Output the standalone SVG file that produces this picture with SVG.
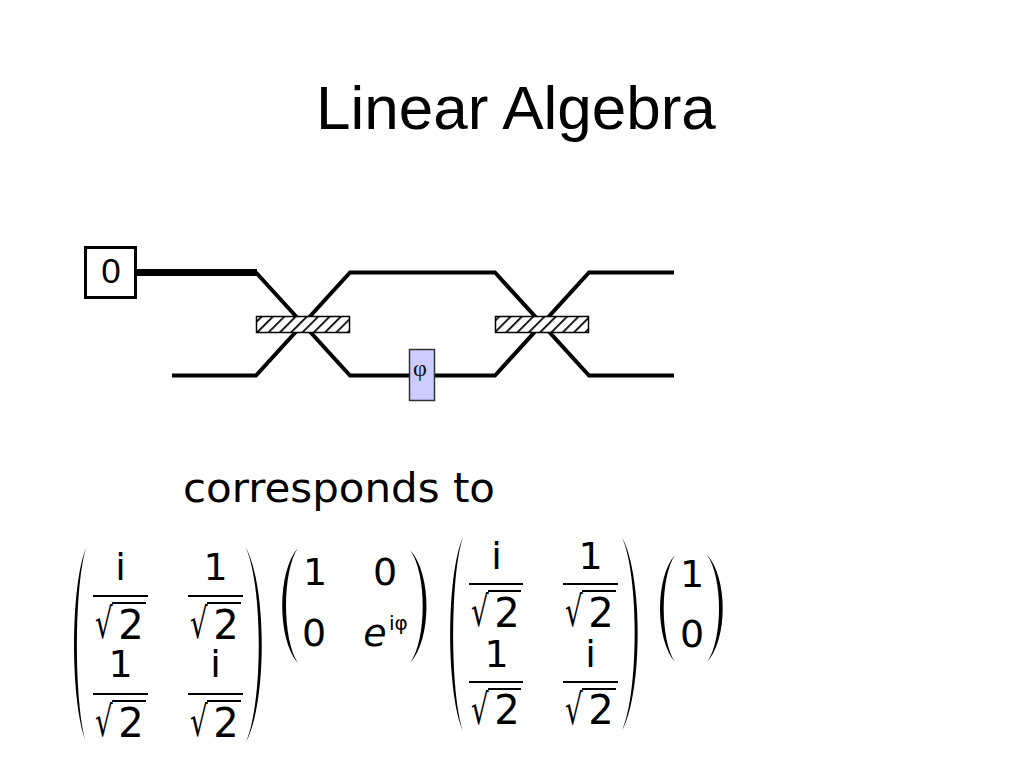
<svg xmlns="http://www.w3.org/2000/svg" width="1024" height="768" viewBox="0 0 1024 768">
<defs>
<pattern id="hatch" patternUnits="userSpaceOnUse" width="8" height="8" patternTransform="rotate(45)">
<rect width="8" height="8" fill="#ffffff"/>
<line x1="0" y1="0" x2="0" y2="8" stroke="#000" stroke-width="3.5"/>
</pattern>
<style>
.title{font-family:"Liberation Sans",Arial,sans-serif;font-size:62px;fill:#000}
.lbl{font-family:"Liberation Sans",Arial,sans-serif;font-size:35px;fill:#000}
.m{font-family:"DejaVu Sans",sans-serif;font-size:38px;fill:#000;text-anchor:middle}
.d{font-family:"DejaVu Sans",sans-serif;font-size:40px;fill:#000;text-anchor:middle}
.rad{font-family:"DejaVu Sans",sans-serif;font-size:42px;fill:#000}
.sup{font-family:"DejaVu Sans",sans-serif;font-size:20px;fill:#000}
.wire{fill:none;stroke:#000;stroke-width:4;stroke-linejoin:miter}
.thick{fill:none;stroke:#000;stroke-width:7}
.bs{fill:url(#hatch);stroke:#000;stroke-width:1.5}
.bar{stroke:#000;stroke-width:2}
.par{fill:#000;stroke:none}
</style>
</defs>
<rect width="1024" height="768" fill="#fff"/>
<text class="title" x="316" y="129">Linear Algebra</text>

<g id="connectors">
<path class="thick" d="M137,272.5 H257"/>
<path class="wire" d="M256,272.5 L350,375.5 H410"/>
<path class="wire" d="M172,375.5 H256 L350,272.5 H495 L589,375.5 H674"/>
<path class="wire" d="M434,375.5 H495 L589,272.5 H674"/>
</g>

<g id="source">
<rect x="85.5" y="247.5" width="50" height="50" fill="#fff" stroke="#000" stroke-width="3"/>
<text class="lbl" x="111" y="283" text-anchor="middle">0</text>
</g>
<g id="bs1"><rect class="bs" x="256.5" y="316.5" width="93" height="16"/></g>
<g id="bs2"><rect class="bs" x="495.5" y="316.5" width="93" height="16"/></g>
<g id="phase">
<rect x="409.5" y="349.5" width="25" height="51" fill="#ccccff" stroke="#333" stroke-width="1.5"/>
<text x="420" y="376" text-anchor="middle" font-family="Liberation Serif,serif" font-size="24" fill="#111">φ</text>
</g>

<text x="183" y="502" font-family="DejaVu Sans,sans-serif" font-size="40" textLength="312" lengthAdjust="spacingAndGlyphs">corresponds to</text>

<!-- Matrix 1 -->
<g id="matrix1">
<path class="par" d="M86,548 C70,587 70,703 86,742 C74,703 74,587 86,548 Z"/>
<path class="par" d="M246,548 C267,587 267,703 246,742 C263,703 263,587 246,548 Z"/>
<g transform="translate(93,596)">
<text class="m" x="27.5" y="-16">i</text><line class="bar" x1="0" y1="0" x2="55" y2="0"/>
<text class="rad" transform="translate(2,42) scale(0.66,1)">√</text><line class="bar" x1="19" y1="7" x2="53" y2="7"/><text class="d" x="38" y="43">2</text>
</g>
<g transform="translate(188,596)">
<text class="m" x="27.5" y="-16">1</text><line class="bar" x1="0" y1="0" x2="55" y2="0"/>
<text class="rad" transform="translate(2,42) scale(0.66,1)">√</text><line class="bar" x1="19" y1="7" x2="53" y2="7"/><text class="d" x="38" y="43">2</text>
</g>
<g transform="translate(93,694)">
<text class="m" x="27.5" y="-17">1</text><line class="bar" x1="0" y1="0" x2="55" y2="0"/>
<text class="rad" transform="translate(2,42) scale(0.66,1)">√</text><line class="bar" x1="19" y1="7" x2="53" y2="7"/><text class="d" x="38" y="43">2</text>
</g>
<g transform="translate(188,694)">
<text class="m" x="27.5" y="-17">i</text><line class="bar" x1="0" y1="0" x2="55" y2="0"/>
<text class="rad" transform="translate(2,42) scale(0.66,1)">√</text><line class="bar" x1="19" y1="7" x2="53" y2="7"/><text class="d" x="38" y="43">2</text>
</g>
</g>

<!-- Matrix 2 -->
<g id="matrix2">
<path class="par" d="M298,548 C277,571 277,640 298,663 C282,640 282,571 298,548 Z"/>
<path class="par" d="M410,550 C432,573 432,640 410,663 C427,640 427,573 410,550 Z"/>
<text class="m" x="315" y="585">1</text>
<text class="m" x="385" y="585">0</text>
<text class="m" x="314" y="646">0</text>
<text class="m" x="375" y="646" font-style="italic">e</text>
<text class="sup" x="389" y="630">iφ</text>
</g>

<!-- Matrix 3 -->
<g id="matrix3">
<path class="par" d="M463,537 C446,576 446,692 463,731 C450,692 450,576 463,537 Z"/>
<path class="par" d="M622,537 C643,576 643,692 622,731 C639,692 639,576 622,537 Z"/>
<g transform="translate(469,584)">
<text class="m" x="27.5" y="-15">i</text><line class="bar" x1="0" y1="0" x2="54" y2="0"/>
<text class="rad" transform="translate(2,42) scale(0.66,1)">√</text><line class="bar" x1="19" y1="7" x2="52" y2="7"/><text class="d" x="38" y="43">2</text>
</g>
<g transform="translate(563,584)">
<text class="m" x="27.5" y="-15">1</text><line class="bar" x1="0" y1="0" x2="55" y2="0"/>
<text class="rad" transform="translate(2,42) scale(0.66,1)">√</text><line class="bar" x1="19" y1="7" x2="53" y2="7"/><text class="d" x="38" y="43">2</text>
</g>
<g transform="translate(469,682)">
<text class="m" x="27.5" y="-15">1</text><line class="bar" x1="0" y1="0" x2="54" y2="0"/>
<text class="rad" transform="translate(2,42) scale(0.66,1)">√</text><line class="bar" x1="19" y1="7" x2="52" y2="7"/><text class="d" x="38" y="42">2</text>
</g>
<g transform="translate(563,682)">
<text class="m" x="27.5" y="-15">i</text><line class="bar" x1="0" y1="0" x2="55" y2="0"/>
<text class="rad" transform="translate(2,42) scale(0.66,1)">√</text><line class="bar" x1="19" y1="7" x2="53" y2="7"/><text class="d" x="38" y="42">2</text>
</g>
</g>

<!-- Vector -->
<g id="vector">
<path class="par" d="M675,555 C655,577 655,640 675,662 C660,640 660,577 675,555 Z"/>
<path class="par" d="M707,555 C728,577 728,640 707,662 C723,640 723,577 707,555 Z"/>
<text class="m" x="692" y="587">1</text>
<text class="m" x="692" y="647">0</text>
</g>
</svg>
